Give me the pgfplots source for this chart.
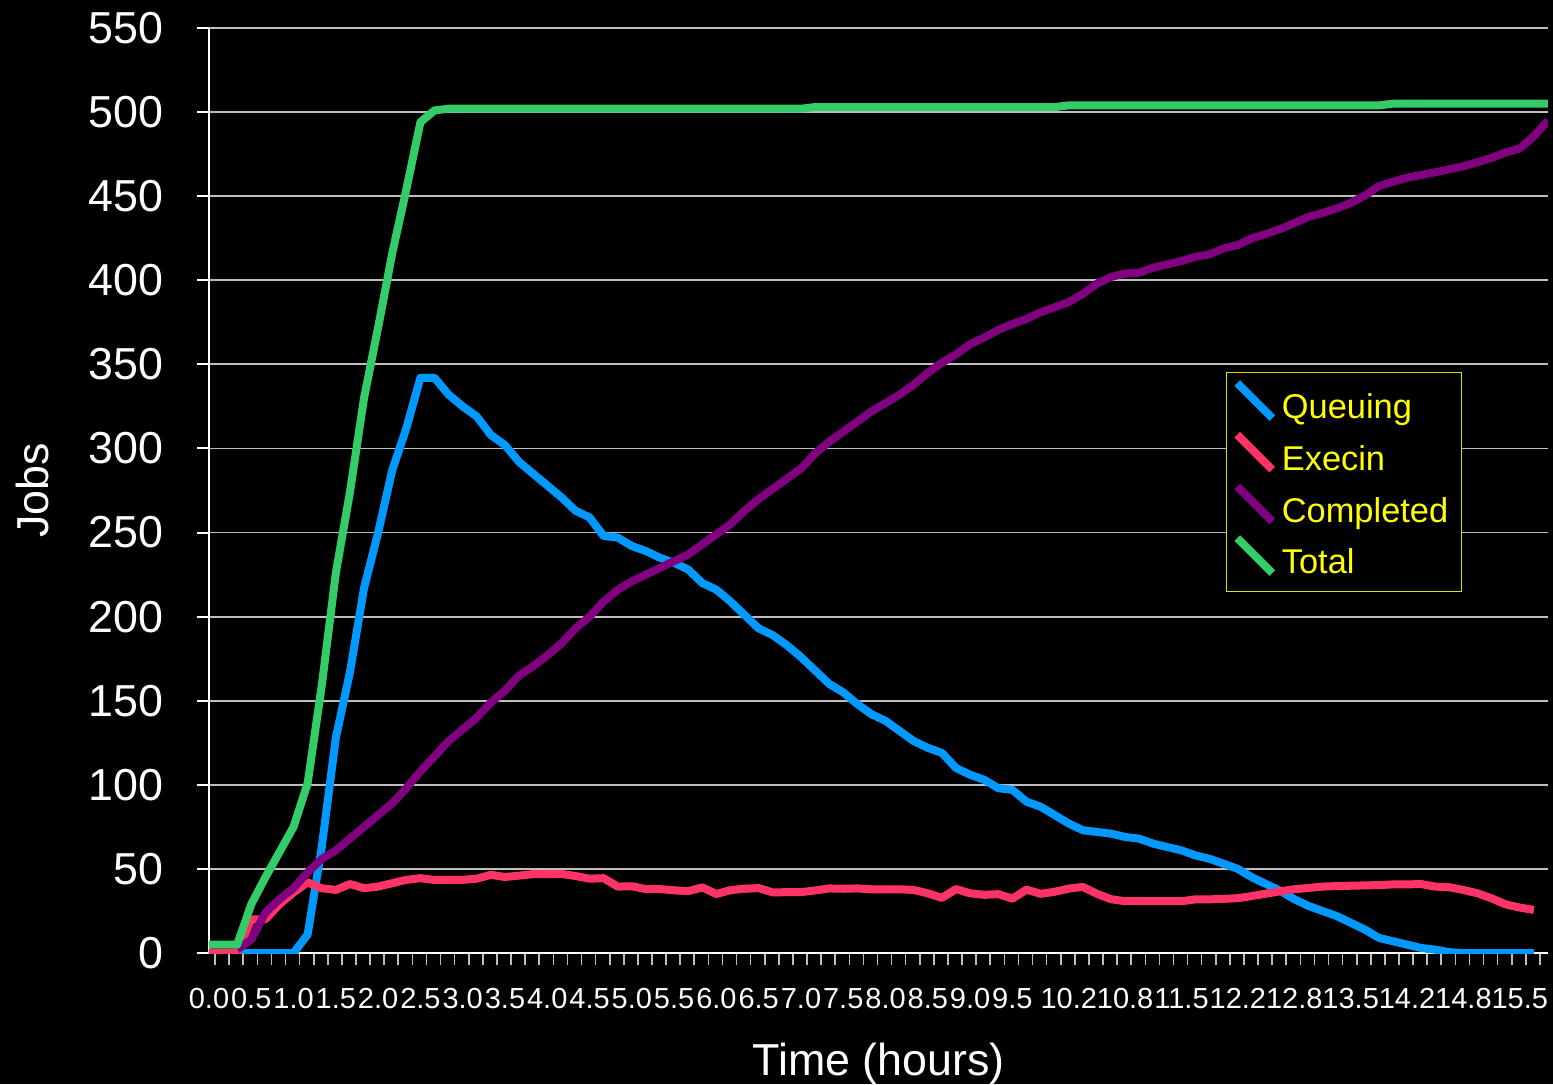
\documentclass[border=0pt]{standalone}
\usepackage{fontspec}
\setmainfont{Liberation Sans}
\usepackage{pgfplots}
\pgfplotsset{compat=1.18}
\usepackage{pgfplotstable}
\definecolor{qblue}{RGB}{0,153,255}
\definecolor{ered}{RGB}{255,51,102}
\definecolor{cpurple}{RGB}{128,0,128}
\definecolor{tgreen}{RGB}{51,204,102}
\definecolor{gridc}{RGB}{190,190,190}
\definecolor{legy}{RGB}{255,255,0}
\definecolor{legbox}{RGB}{220,220,0}

\pgfplotstableread{
k Q E C T
0 0 0 nan 5
1 0 0 nan 5
2 0 0 2 5
3 0 20 8 29
4 0 20 24 45
5 0 29 32 60
6 0 36 38.5 75
7 11 42 48 101
8 63 38.5 56 159
9 128 37.5 61 226
10 167 41 68 274
11 217 38.5 75 330
12 250 39.5 82 372
13 287 41.5 89 416
14 312 43.5 98 454
15 342 44.5 108 494
16 342 43.4 117 501
17 332 43.5 126 502
18 325 43.5 133 502
19 319 44.2 140 502
20 308 46.5 149 502
21 302 45.2 156 502
22 292 46 165 502
23 285 46.9 170.5 502
24 278 46.9 177 502
25 271 47 184 502
26 263 45.8 193 502
27 259 44.2 200 502
28 248 44.5 209 502
29 247 39.5 216 502
30 242 39.7 221 502
31 239 38 225 502
32 235 38 229 502
33 232 37.3 233 502
34 228 36.8 237 502
35 220 39 243 502
36 216 35.1 249 502
37 209 37.4 255 502
38 201 38.2 263 502
39 193 38.6 270 502
40 189 36 276 502
41 183 36.2 282 502
42 176 36.2 288 502
43 168 37.2 297 503
44 160 38.4 304 503
45 155 38.2 310 503
46 148 38.4 316 503
47 142 37.9 322 503
48 138 37.9 327 503
49 132 37.9 332 503
50 126 37.5 338 503
51 122 35.5 345 503
52 119 32.8 351 503
53 110 38 356 503
54 106 35.5 362 503
55 103 34.6 366 503
56 98 35 370.5 503
57 97 32.3 374 503
58 90 37.7 377 503
59 87 35.2 381 503
60 82 36.4 384 503
61 77 38.3 387 504
62 73 39.3 392 504
63 72 35.2 398 504
64 71 32 402 504
65 69 30.8 404 504
66 68 30.9 404.5 504
67 65 30.9 407.5 504
68 63 30.9 409.5 504
69 61 30.8 411.5 504
70 58 31.9 414 504
71 56 31.9 415.5 504
72 53 32.2 419 504
73 50 32.6 421 504
74 45 33.9 425 504
75 41 35.3 427.5 504
76 37 36.7 430.5 504
77 32 37.9 434 504
78 28 38.7 437.7 504
79 25 39.5 440 504
80 22 39.8 442.7 504
81 18 40 446 504
82 14 40.2 450.3 504
83 9 40.4 456 504
84 7 40.8 458.6 505
85 5 40.8 461 505
86 3 41 462.6 505
87 2 39.5 464.2 505
88 0.5 39.1 466 505
89 0 37.5 467.8 505
90 0 35.5 470.2 505
91 0 32.5 472.8 505
92 0 28.9 476 505
93 0 27 478.4 505
94 0 25.6 485.7 505
95 nan nan 495 505
}\datatable

\begin{document}
\begin{tikzpicture}
\fill[black] (-104.5pt,-65.5pt) rectangle (672pt,476.5pt);
\begin{axis}[
  at={(0pt,0pt)}, anchor=south west,
  scale only axis, width=669.5pt, height=462.5pt,
  xmin=0, xmax=95, ymin=0, ymax=550,
  axis lines*=left,
  axis line style={white, line width=1pt},
  /pgf/number format/assume math mode=true,
  ytick={0,50,...,550},
  ymajorgrids, grid style={gridc, line width=0.9pt},
  xtick={0,3,6,9,12,15,18,21,24,27,30,33,36,39,42,45,48,51,54,57,61,65,69,73,77,81,85,89,93},
  xticklabels={0.0,0.5,1.0,1.5,2.0,2.5,3.0,3.5,4.0,4.5,5.0,5.5,6.0,6.5,7.0,7.5,8.0,8.5,9.0,9.5,10.2,10.8,11.5,12.2,12.8,13.5,14.2,14.8,15.5},
  minor xtick={0.43,1.43,...,94.43},
  tick align=outside,
  major tick length=6pt, minor tick length=6pt,
  major x tick style={draw=none},
  minor x tick style={gridc, line width=0.8pt},
  y tick style={white, line width=1pt},
  yticklabel style={font=\fontsize{22.4}{26}\selectfont, text=white, anchor=east, inner sep=0pt, xshift=-16.5pt},
  xticklabel style={font=\fontsize{14.5}{17}\selectfont, text=white, anchor=base, inner sep=0pt, yshift=-21.85pt},
  xlabel={Time (hours)},
  ylabel={Jobs},
  xlabel style={font=\fontsize{22.4}{26}\selectfont, text=white, at={(axis description cs:0.5,0)}, anchor=base, yshift=-61pt},
  ylabel style={font=\fontsize{22.4}{26}\selectfont, text=white, at={(axis description cs:-0.1202,0.5)}, anchor=base},
  legend cell align=left,
  legend image code/.code={%
    \path[draw=none, fill=none] (0pt,0pt) -- (17.5pt,0pt);
    \draw[#1, overlay, line width=4pt, line cap=butt] (-1.3pt,10.85pt) -- (16.2pt,-6.65pt);},
  legend style={
    at={(0.7595,0.628)}, anchor=north west,
    draw=legbox, line width=0.6pt, fill=black, text=legy,
    font=\fontsize{17.2}{20}\selectfont,
    inner xsep=6.65pt, inner ysep=8pt,
    row sep=9.85pt, column sep=3.5pt,
    nodes={inner sep=0pt, text height=15pt, text depth=1pt}
  },
  every axis plot/.append style={line width=4pt, line join=round, no markers},
]
\addplot[qblue] table[x=k, y=Q] {\datatable};
\addlegendentry{Queuing}
\addplot[ered] table[x=k, y=E] {\datatable};
\addlegendentry{Execin}
\addplot[cpurple] table[x=k, y=C] {\datatable};
\addlegendentry{Completed}
\addplot[tgreen] table[x=k, y=T] {\datatable};
\addlegendentry{Total}
\end{axis}
\pgfresetboundingbox
\path[use as bounding box] (-104.5pt,-65.5pt) rectangle (672pt,476.5pt);
\end{tikzpicture}
\end{document}
